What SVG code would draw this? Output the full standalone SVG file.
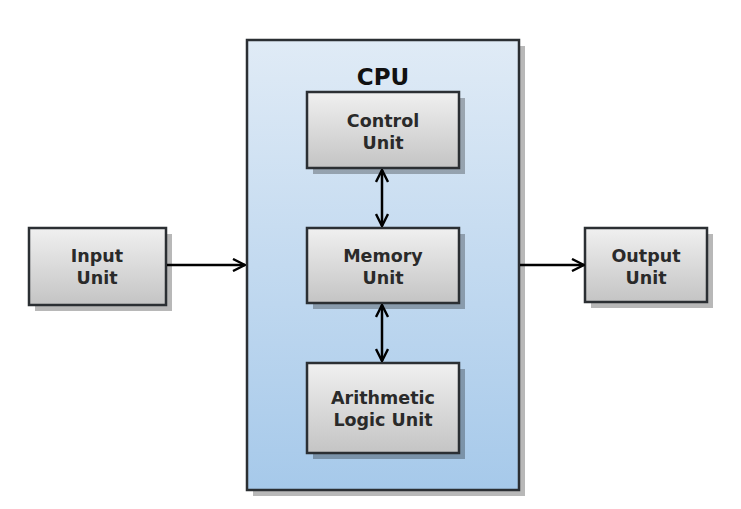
<svg xmlns="http://www.w3.org/2000/svg" width="741" height="509" viewBox="0 0 741 509">
<style>
.shadow{fill:#000;opacity:0.28}
.node{fill:url(#gNode);stroke:#2b2f33;stroke-width:2.5}
.cpu{fill:url(#gCpu);stroke:#2b2f33;stroke-width:2.5}
.t{font-family:"DejaVu Sans",Verdana,sans-serif;font-weight:bold;font-size:17.5px;fill:#2a2a2a;text-anchor:middle}
.conn{stroke:#000;stroke-width:2.5;fill:none}
</style>
<defs>
<linearGradient id="gNode" x1="0" y1="0" x2="0" y2="1">
<stop offset="0" stop-color="#f0f0f0"/>
<stop offset="1" stop-color="#c4c4c4"/>
</linearGradient>
<linearGradient id="gCpu" x1="0" y1="0" x2="0" y2="1">
<stop offset="0" stop-color="#e0ebf6"/>
<stop offset="1" stop-color="#a6c9ea"/>
</linearGradient>
<marker id="arr" viewBox="0 0 14 14" refX="13" refY="7" markerWidth="14" markerHeight="14" markerUnits="userSpaceOnUse" orient="auto-start-reverse">
<path d="M1,1 L13,7 L1,13" fill="none" stroke="#000" stroke-width="2.4"/>
</marker>
</defs>
<rect width="741" height="509" fill="#fff"/>
<g id="cpu">
<rect class="shadow" x="253" y="46" width="272" height="450"/>
<rect class="cpu" x="247" y="40" width="272" height="450"/>
<text class="t" x="383" y="85" style="font-size:23px;fill:#111">CPU</text>
</g>
<g id="control-unit">
<rect class="shadow" x="313" y="98" width="152" height="76"/>
<rect class="node" x="307" y="92" width="152" height="76"/>
<text class="t" x="383" y="127">Control</text>
<text class="t" x="383" y="149">Unit</text>
</g>
<g id="memory-unit">
<rect class="shadow" x="313" y="234" width="152" height="75"/>
<rect class="node" x="307" y="228" width="152" height="75"/>
<text class="t" x="383" y="262">Memory</text>
<text class="t" x="383" y="284">Unit</text>
</g>
<g id="alu">
<rect class="shadow" x="313" y="369" width="152" height="90"/>
<rect class="node" x="307" y="363" width="152" height="90"/>
<text class="t" x="383" y="404">Arithmetic</text>
<text class="t" x="383" y="426">Logic Unit</text>
</g>
<g id="input-unit">
<rect class="shadow" x="35" y="234" width="137" height="77"/>
<rect class="node" x="29" y="228" width="137" height="77"/>
<text class="t" x="97" y="262">Input</text>
<text class="t" x="97" y="284">Unit</text>
</g>
<g id="output-unit">
<rect class="shadow" x="591" y="234" width="122" height="74"/>
<rect class="node" x="585" y="228" width="122" height="74"/>
<text class="t" x="646" y="262">Output</text>
<text class="t" x="646" y="284">Unit</text>
</g>
<g id="connectors">
<line class="conn" x1="167" y1="265" x2="245" y2="265" marker-end="url(#arr)"/>
<line class="conn" x1="520" y1="265" x2="584" y2="265" marker-end="url(#arr)"/>
<line class="conn" x1="382" y1="170" x2="382" y2="226" marker-start="url(#arr)" marker-end="url(#arr)"/>
<line class="conn" x1="382" y1="305" x2="382" y2="361" marker-start="url(#arr)" marker-end="url(#arr)"/>
</g>
</svg>
